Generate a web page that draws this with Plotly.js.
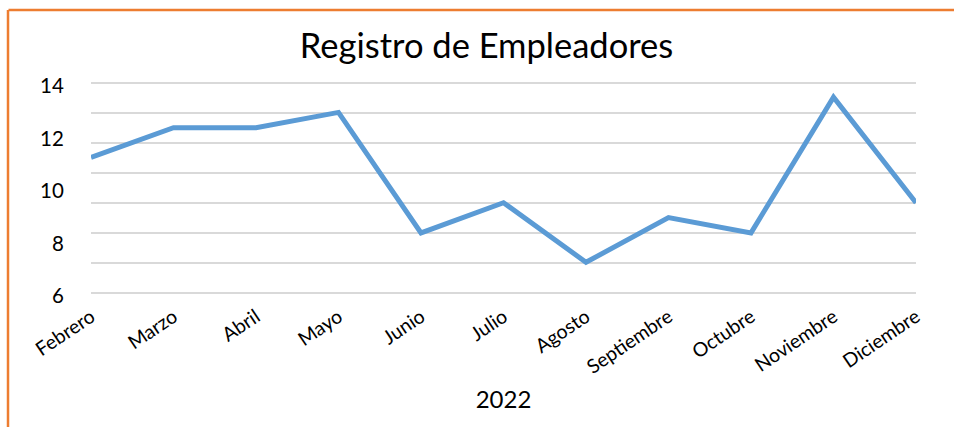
<!DOCTYPE html>
<html><head><meta charset="utf-8">
<script src="https://cdn.plot.ly/plotly-3.0.1.min.js"></script>
<style>html,body{margin:0;padding:0;background:#fff}#chart{width:954px;height:427px}</style>
</head><body><div id="chart"></div>
<script>
const months = ["Febrero","Marzo","Abril","Mayo","Junio","Julio","Agosto","Septiembre","Octubre","Noviembre","Diciembre"];
const empleadores = [11.17, 12.3, 12.3, 12.88, 8.29, 9.44, 7.17, 8.87, 8.29, 13.46, 9.44];
const yTickVals = [6, 8, 10, 12, 14];
const gridVals = [0, 1, 2, 3, 4, 5, 6, 7];
const chartTitle = "Registro de Empleadores";
const xTitle = "2022";

const FONT = "Lato, 'Open Sans', sans-serif";
const trace = {
  x: months, y: empleadores, type: "scatter", mode: "lines",
  line: {color: "#5b9bd5", width: 5}, hoverinfo: "x+y"
};
// invisible trace on a grid axis (gridlines at 7 equal intervals like the original)
const gridTrace = {x: [months[0]], y: [0], xaxis: "x", yaxis: "y2", mode: "markers",
  marker: {opacity: 0}, hoverinfo: "skip", showlegend: false};

// plot area padded by 3px top/bottom so edge gridlines are kept
const pad = 3, pxPerUnit = 210 / 8, pxPerGrid = 210 / 7;
const layout = {
  width: 954, height: 427,
  margin: {l: 91, r: 38, t: 83 - pad, b: 134 - pad},
  paper_bgcolor: "#fff", plot_bgcolor: "rgba(0,0,0,0)",
  showlegend: false,
  font: {family: FONT, color: "#000"},
  title: {text: chartTitle, font: {family: FONT, size: 34.5, color: "#000"},
    x: 0.51, xref: "container", xanchor: "center", y: 0.893, yref: "container", yanchor: "middle"},
  xaxis: {type: "category", range: [0, months.length - 1], showgrid: false, zeroline: false,
    showline: false, ticks: "outside", ticklen: 1, tickcolor: "rgba(0,0,0,0)",
    tickangle: -34, tickfont: {family: FONT, size: 19.5, color: "#000"},
    title: {text: xTitle, font: {family: FONT, size: 24, color: "#000"}, standoff: 14}},
  yaxis: {range: [6 - pad / pxPerUnit, 14 + pad / pxPerUnit], tickvals: yTickVals,
    ticktext: yTickVals.map(String), showgrid: false,
    zeroline: false, showline: false, ticks: "outside", ticklen: 22, tickcolor: "rgba(0,0,0,0)",
    ticklabelshift: 3,
    tickfont: {family: FONT, size: 20.5, color: "#000"}},
  yaxis2: {overlaying: "y", range: [-pad / pxPerGrid, 7 + pad / pxPerGrid], tickvals: gridVals, showgrid: true,
    gridcolor: "#d9d9d9", gridwidth: 2,
    showticklabels: false, zeroline: false, showline: false, ticks: ""},
  shapes: [
    {type: "line", xref: "paper", yref: "paper", x0: -0.1, x1: 1.06, y0: (427 - 131 - 10) / 216, y1: (427 - 131 - 10) / 216,
      line: {color: "#ed7d31", width: 2.5}},
    {type: "line", xref: "paper", yref: "paper", x0: -0.1006, x1: -0.1006, y0: (427 - 131 - 10) / 216, y1: -0.7,
      line: {color: "#ed7d31", width: 2.5}}
  ]
};
Plotly.newPlot("chart", [gridTrace, trace], layout, {displayModeBar: false, staticPlot: true});
</script></body></html>
